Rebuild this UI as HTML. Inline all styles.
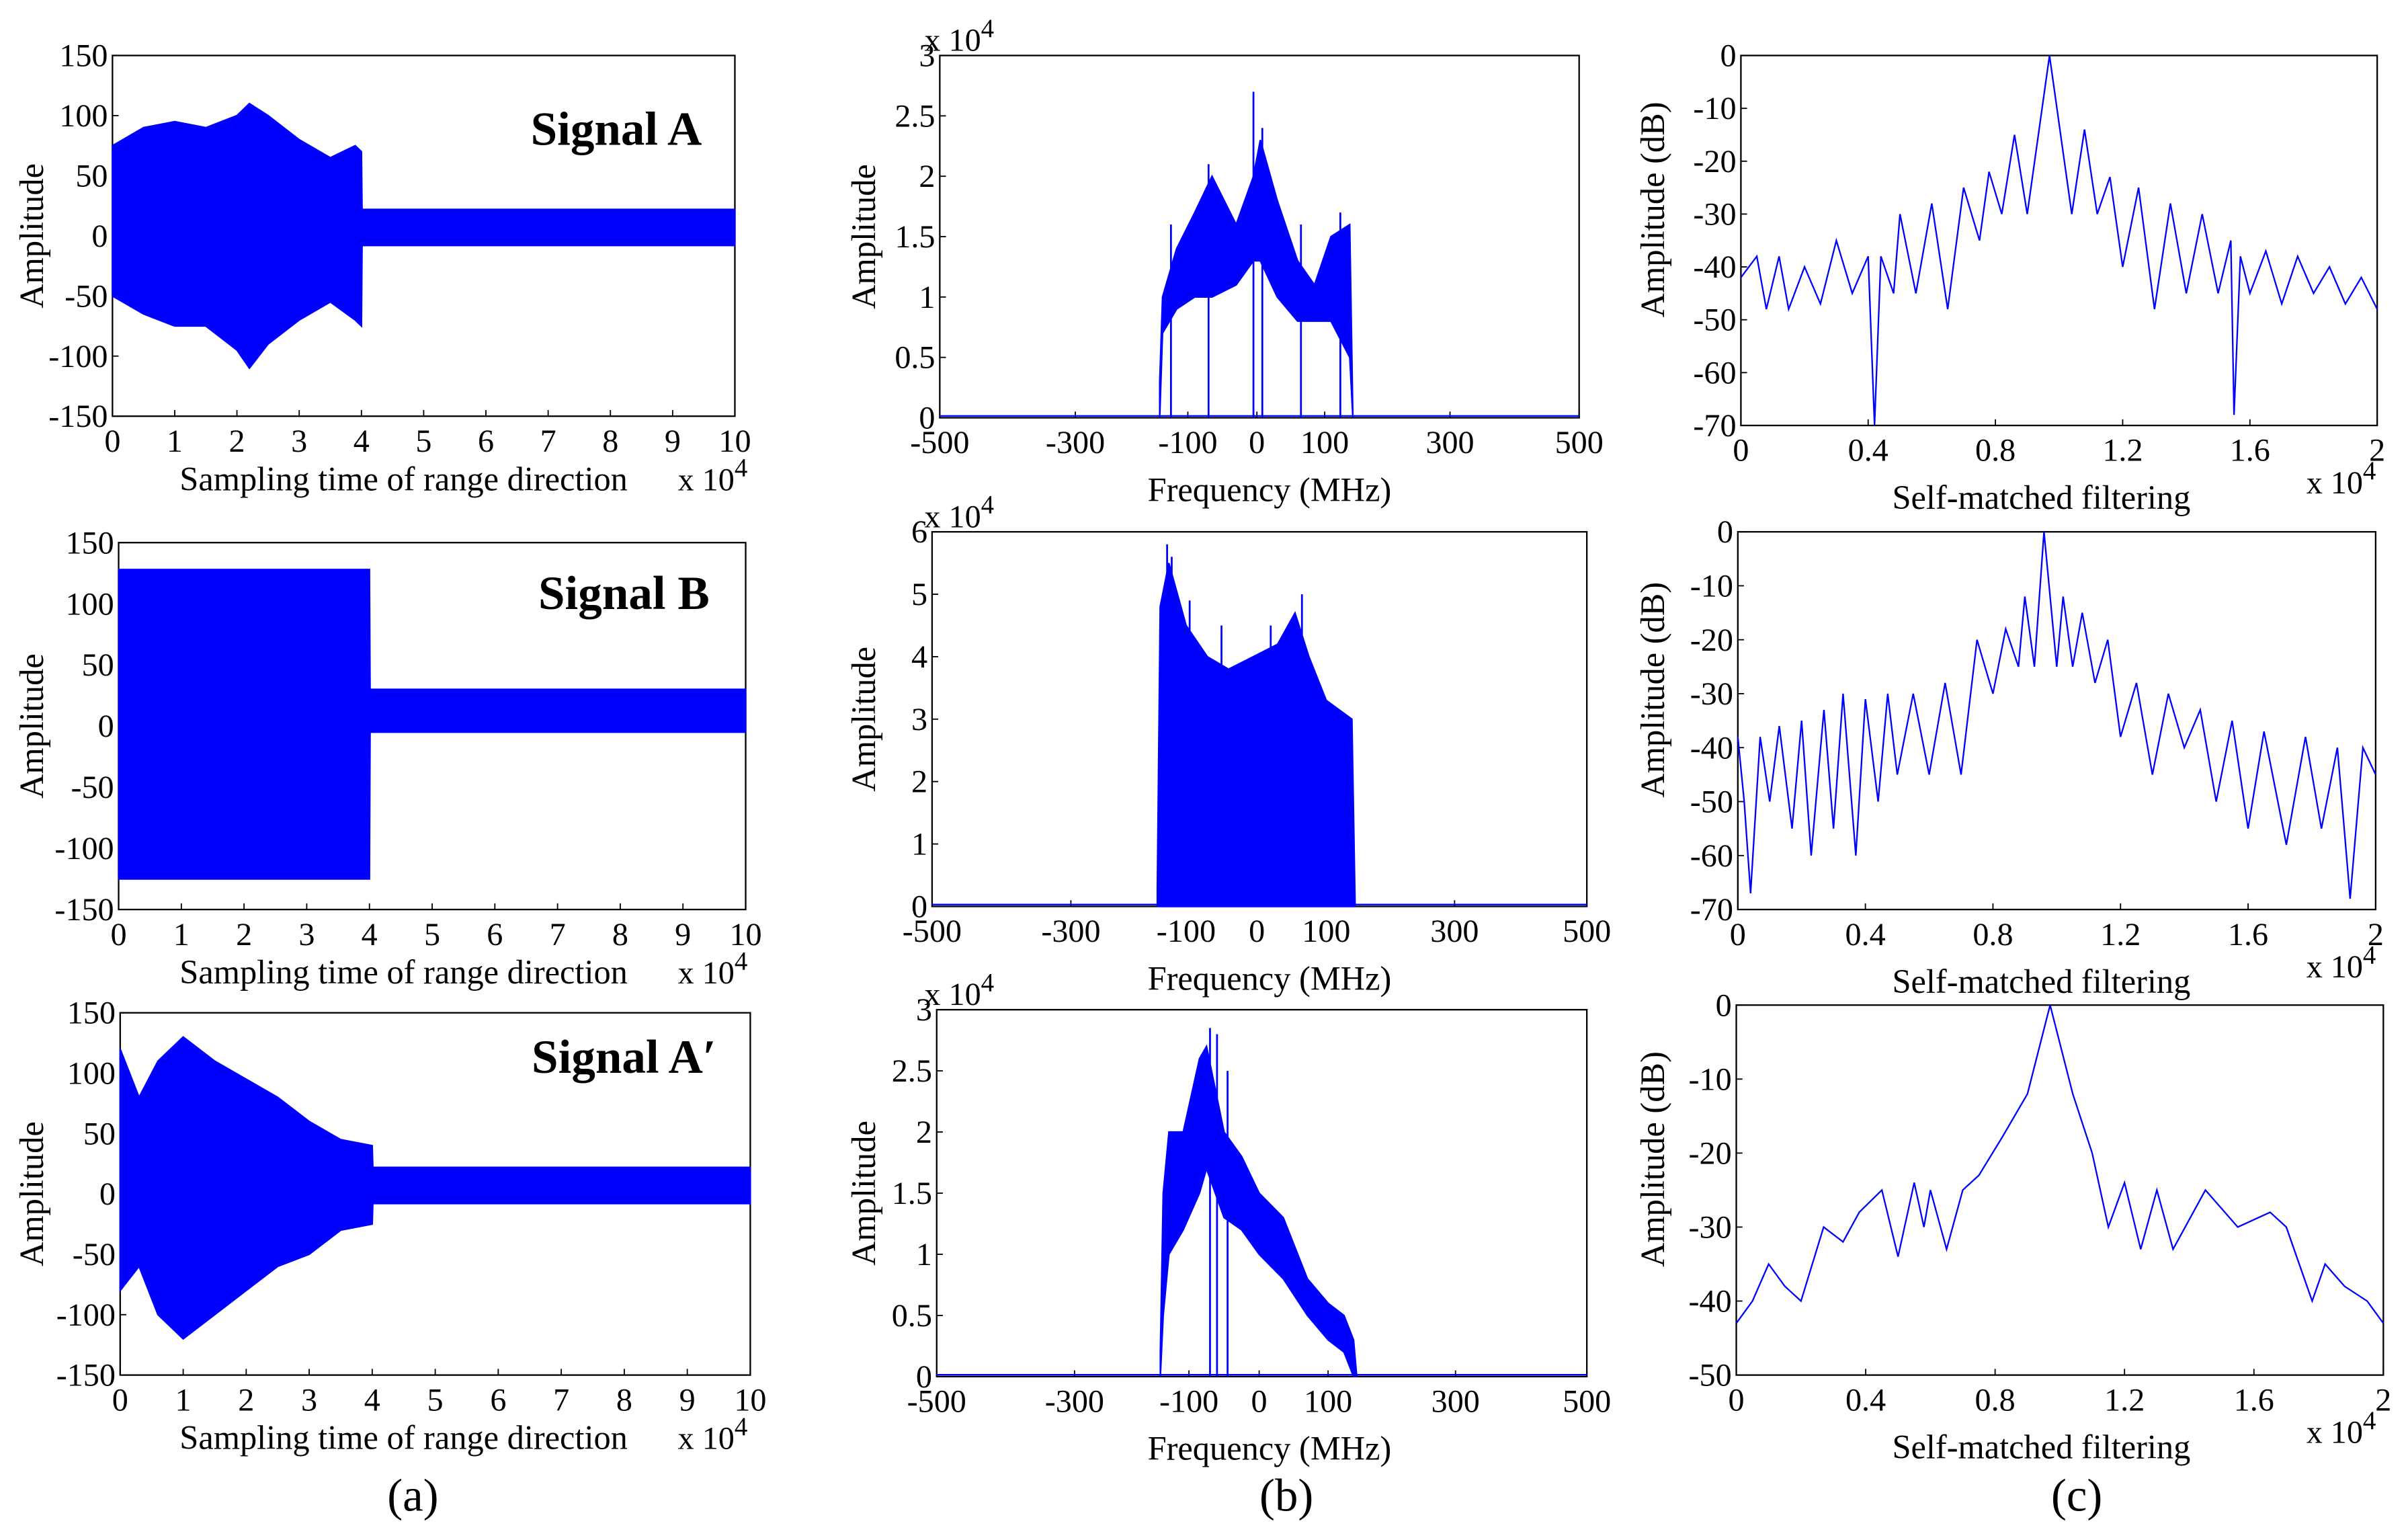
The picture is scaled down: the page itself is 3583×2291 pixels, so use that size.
<!DOCTYPE html>
<html><head><meta charset="utf-8">
<style>
html,body{margin:0;padding:0;background:#fff;}
svg{display:block;}
text{font-family:"Liberation Serif",serif;fill:#000;}
</style></head>
<body>
<svg id="fig" width="3583" height="2291" viewBox="0 0 1563 999" preserveAspectRatio="none" xmlns="http://www.w3.org/2000/svg">
<rect x="0" y="0" width="1563" height="999" fill="#fff"/>
</svg>
<script>
// ---- Time-domain envelopes (x in 1e4 samples, amplitude) ----
const sigAx=[0,0.5,1,1.5,2,2.2,2.5,3,3.5,3.9,4,4.01,10];
const sigAup=[75,90,95,90,100,110,100,80,65,75,70,22,22];
const sigAlo=[-50,-65,-75,-75,-95,-110,-90,-70,-55,-70,-75,-8,-8];
const sigBx=[0,4,4.01,10];
const sigBup=[128,128,30,30];
const sigBlo=[-125,-125,-5,-5];
const sigA2x=[0,0.3,0.6,1,1.5,2,2.5,3,3.5,4,4.01,10];
const sigA2up=[120,80,110,130,110,95,80,60,45,40,22,22];
const sigA2lo=[-80,-60,-100,-120,-100,-80,-60,-50,-30,-25,-8,-8];
// ---- Spectra (MHz, x1e4) ----
const specAx=[-150,-145,-120,-90,-65,-30,-5,5,30,60,85,110,140,145];
const specAup=[0.3,1.0,1.4,1.7,2.0,1.6,2.0,2.3,1.8,1.3,1.1,1.5,1.6,0];
const specAlo=[0,0.7,0.9,1.0,1.0,1.1,1.3,1.3,1.0,0.8,0.8,0.8,0.5,0];
const specAspikeX=[-5,8,-130,-70,65,125];
const specAspikeY=[2.7,2.4,1.6,2.1,1.6,1.7];
const specBx=[-150,-145,-130,-100,-70,-40,-5,30,55,75,100,140,145];
const specBup=[0.3,4.8,5.5,4.5,4.0,3.8,4.0,4.2,4.7,4.0,3.3,3.0,0];
const specBlo=[0,0,0,0,0,0,0,0,0,0,0,0,0];
const specBspikeX=[-133,-125,-95,-50,20,65];
const specBspikeY=[5.8,5.6,4.9,4.5,4.5,5.0];
const specCx=[-150,-145,-135,-110,-85,-75,-50,-25,0,35,70,100,125,140,145];
const specCup=[0.2,1.5,2.0,2.0,2.6,2.7,2.0,1.8,1.5,1.3,0.8,0.6,0.5,0.3,0];
const specClo=[0,0.5,1.0,1.2,1.5,1.7,1.3,1.2,1.0,0.8,0.5,0.3,0.2,0,0];
const specCspikeX=[-70,-60,-45];
const specCspikeY=[2.85,2.8,2.5];
// ---- Matched filter outputs (x in 1e4, dB) ----
const mfAx=[0,0.05,0.08,0.12,0.15,0.2,0.25,0.3,0.35,0.4,0.42,0.44,0.48,0.5,0.55,0.6,0.65,0.7,0.75,0.78,0.82,0.86,0.9,0.97,1.04,1.08,1.12,1.16,1.2,1.25,1.3,1.35,1.4,1.45,1.5,1.54,1.55,1.57,1.6,1.65,1.7,1.75,1.8,1.85,1.9,1.95,2];
const mfAy=[-42,-38,-48,-38,-48,-40,-47,-35,-45,-38,-70,-38,-45,-30,-45,-28,-48,-25,-35,-22,-30,-15,-30,0,-30,-14,-30,-23,-40,-25,-48,-28,-45,-30,-45,-35,-68,-38,-45,-37,-47,-38,-45,-40,-47,-42,-48];
const mfBx=[0,0.02,0.04,0.07,0.1,0.13,0.17,0.2,0.23,0.27,0.3,0.33,0.37,0.4,0.44,0.47,0.5,0.55,0.6,0.65,0.7,0.75,0.8,0.84,0.88,0.9,0.93,0.96,1,1.02,1.05,1.08,1.12,1.16,1.2,1.25,1.3,1.35,1.4,1.45,1.5,1.55,1.6,1.65,1.72,1.78,1.83,1.88,1.92,1.96,2];
const mfBy=[-38,-50,-67,-38,-50,-36,-55,-35,-60,-33,-55,-30,-60,-31,-50,-30,-45,-30,-45,-28,-45,-20,-30,-18,-25,-12,-25,0,-25,-12,-25,-15,-28,-20,-38,-28,-45,-30,-40,-33,-50,-35,-55,-37,-58,-38,-55,-40,-68,-40,-45];
const mfCx=[0,0.05,0.1,0.15,0.2,0.27,0.33,0.38,0.45,0.5,0.55,0.58,0.6,0.65,0.7,0.75,0.82,0.9,0.97,1.04,1.1,1.15,1.2,1.25,1.3,1.35,1.45,1.55,1.65,1.7,1.78,1.82,1.88,1.95,2];
const mfCy=[-43,-40,-35,-38,-40,-30,-32,-28,-25,-34,-24,-30,-25,-33,-25,-23,-18,-12,0,-12,-20,-30,-24,-33,-25,-33,-25,-30,-28,-30,-40,-35,-38,-40,-43];
// ---- Tick labels ----
const timeTicks=[0,1,2,3,4,5,6,7,8,9,10];
const ampTicks=[150,100,50,0,-50,-100,-150];
const freqTicks=[-500,-300,-100,0,100,300,500];
const spec3Ticks=[0,0.5,1,1.5,2,2.5,3];
const spec6Ticks=[0,1,2,3,4,5,6];
const mfXTicks=[0,0.4,0.8,1.2,1.6,2];
const dB70Ticks=[0,-10,-20,-30,-40,-50,-60,-70];
const dB50Ticks=[0,-10,-20,-30,-40,-50];

const NS='http://www.w3.org/2000/svg';
const svg=document.getElementById('fig');
const BLUE='#0000ff';
// piecewise frequency axis knots (fraction of axis width at each freq tick)
const FREQ_FRAC=[0,0.212,0.388,0.496,0.602,0.798,1];
function mk(tag,attrs,parent){const e=document.createElementNS(NS,tag);for(const k in attrs)e.setAttribute(k,attrs[k]);(parent||svg).appendChild(e);return e;}
function txt(s,x,y,size,anchor,parent,extra){const t=mk('text',Object.assign({x:x,y:y,'font-size':size,'text-anchor':anchor||'middle'},extra||{}),parent);t.textContent=s;return t;}

function panel(id,b,xr,yr,xt,yt,fmtX,fmtY,knots){
  const g=mk('g',{});
  
  
  let sx=v=>b[0]+(v-xr[0])/(xr[1]-xr[0])*(b[2]-b[0]);
  if(knots){
    sx=v=>{
      let i=0;while(i<xt.length-2&&v>xt[i+1])i++;
      const f=knots[i]+(v-xt[i])/(xt[i+1]-xt[i])*(knots[i+1]-knots[i]);
      return b[0]+f*(b[2]-b[0]);
    };
  }
  const sy=v=>b[3]-(v-yr[0])/(yr[1]-yr[0])*(b[3]-b[1]);
  const fr=mk('rect',{x:b[0],y:b[1],width:b[2]-b[0],height:b[3]-b[1],fill:'none',stroke:'#000','stroke-width':1},g);
  
  
  xt.forEach(v=>{
    mk('line',{x1:sx(v),x2:sx(v),y1:b[3],y2:b[3]-4,stroke:'#000','stroke-width':0.8},g);
    const t=txt(fmtX(v),sx(v),b[3]+23,21,'middle',g);
    
    
  });
  yt.forEach(v=>{
    mk('line',{x1:b[0],x2:b[0]+4,y1:sy(v),y2:sy(v),stroke:'#000','stroke-width':0.8},g);
    const t=txt(fmtY(v),b[0]-3,sy(v)+7,21,'end',g);
    
    
  });
  return {g,sx,sy,b};
}
function band(p,xs,up,lo,name){
  let d='M'+xs.map((x,i)=>p.sx(x)+','+p.sy(up[i])).join(' L');
  for(let i=xs.length-1;i>=0;i--)d+=' L'+p.sx(xs[i])+','+p.sy(lo[i]);
  const e=mk('path',{d:d+'Z',fill:BLUE,stroke:BLUE,'stroke-width':1},p.g);
  
  
}
function line(p,xs,ys,name,w){
  const e=mk('path',{d:'M'+xs.map((x,i)=>p.sx(x)+','+p.sy(ys[i])).join(' L'),fill:'none',stroke:BLUE,'stroke-width':w||1},p.g);
  
  
}
function spikes(p,xs,ys,base){
  xs.forEach((x,i)=>{const e=mk('line',{x1:p.sx(x),x2:p.sx(x),y1:p.sy(base),y2:p.sy(ys[i]),stroke:BLUE,'stroke-width':1.2},p.g);
    
    });
}
function ylab(s,x,y,name){const t=txt(s,x,y,22,'middle',svg,{transform:'rotate(-90 '+x+' '+y+')'});}
function xlab(s,x,y,name){const t=txt(s,x,y,22,'middle');}
function exp(x,y,name){const t=mk('text',{x:x,y:y,'font-size':21,'text-anchor':'start'});t.innerHTML='x 10<tspan dy="-9" font-size="17">4</tspan>';}
const id=v=>String(v);

// Column (a)
const timeRows=[[[73,36,477,270],sigAx,sigAup,sigAlo,'Signal A',400,94],
                [[77,352,484,590],sigBx,sigBup,sigBlo,'Signal B',405,395],
                [[78,657,487,892],sigA2x,sigA2up,sigA2lo,'Signal A\u2032',405,696]];
timeRows.forEach((r,i)=>{
  const p=panel('time-signal-panel-'+(i+1),r[0],[0,10],[-150,150],timeTicks,ampTicks,id,id);
  band(p,r[1],r[2],r[3],'time-signal-waveform');
  const t=txt(r[4],r[5],r[6],31,'middle',svg,{'font-weight':'bold'});
  
  
  ylab('Amplitude',28,(r[0][1]+r[0][3])/2,'y-axis-title');
  xlab('Sampling time of range direction',262,r[0][3]+48,'x-axis-title');
  exp(440,r[0][3]+48,'x-axis-exponent');
});
// Column (b)
const specRows=[[[610,36,1025,271],[0,3],spec3Ticks,specAx,specAup,specAlo,specAspikeX,specAspikeY],
                [[605,345,1030,588],[0,6],spec6Ticks,specBx,specBup,specBlo,specBspikeX,specBspikeY],
                [[608,655,1030,893],[0,3],spec3Ticks,specCx,specCup,specClo,specCspikeX,specCspikeY]];
specRows.forEach((r,i)=>{
  const p=panel('spectrum-panel-'+(i+1),r[0],[-500,500],r[1],freqTicks,r[2],id,id,FREQ_FRAC);
  line(p,[-500,500],[0.005*r[1][1],0.005*r[1][1]],'spectrum-baseline',1);
  band(p,r[3],r[4],r[5],'spectrum-magnitude');
  spikes(p,r[6],r[7],0);
  ylab('Amplitude',568,(r[0][1]+r[0][3])/2,'y-axis-title');
  xlab('Frequency (MHz)',824,r[0][3]+54,'x-axis-title');
  exp(600,r[0][1]-3,'y-axis-exponent');
});
// Column (c)
const mfRows=[[[1130,36,1543,276],[-70,0],dB70Ticks,mfAx,mfAy],
              [[1128,345,1542,590],[-70,0],dB70Ticks,mfBx,mfBy],
              [[1127,652,1547,892],[-50,0],dB50Ticks,mfCx,mfCy]];
mfRows.forEach((r,i)=>{
  const p=panel('matched-filter-panel-'+(i+1),r[0],[0,2],r[1],mfXTicks,r[2],id,id);
  line(p,r[3],r[4],'matched-filter-response',1);
  ylab('Amplitude (dB)',1080,(r[0][1]+r[0][3])/2-20,'y-axis-title');
  xlab('Self-matched filtering',1325,r[0][3]+54,'x-axis-title');
  exp(1497,r[0][3]+44,'x-axis-exponent');
});
[['(a)',268,980,'caption-a'],['(b)',835,980,'caption-b'],['(c)',1348,980,'caption-c']].forEach(c=>{
  const t=txt(c[0],c[1],c[2],30,'middle');
  
  
});
</script>
</body></html>
